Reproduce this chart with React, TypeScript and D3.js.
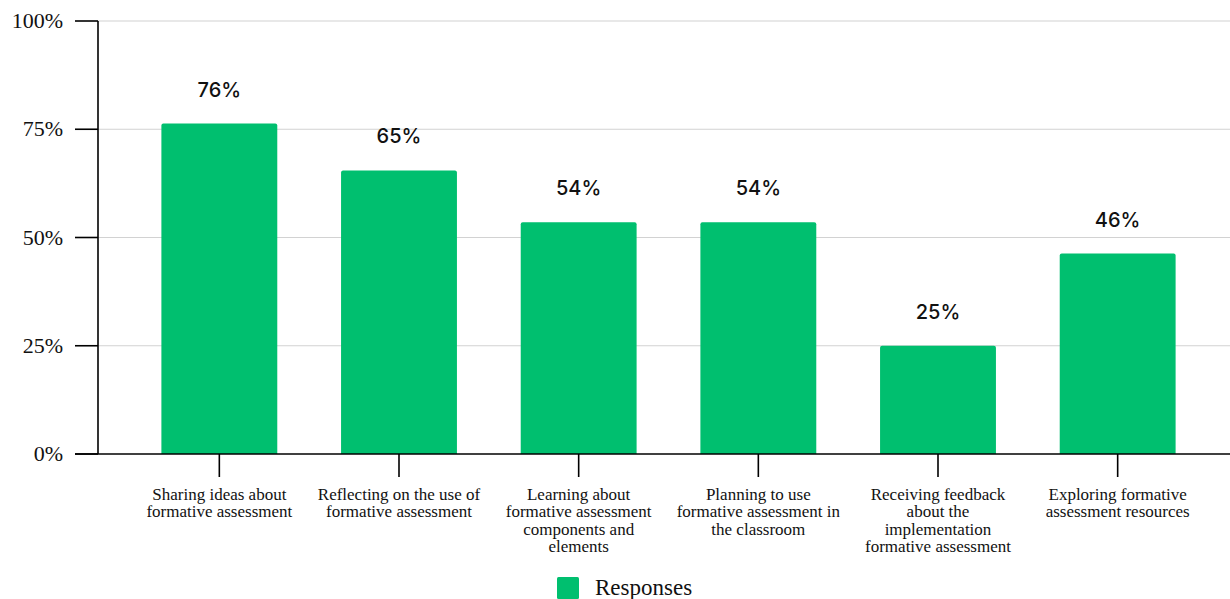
import React from "react";
import * as d3 from "d3";

const categories: string[] = [
  "Sharing ideas about\nformative assessment",
  "Reflecting on the use of\nformative assessment",
  "Learning about\nformative assessment\ncomponents and\nelements",
  "Planning to use\nformative assessment in\nthe classroom",
  "Receiving feedback\nabout the\nimplementation\nformative assessment",
  "Exploring formative\nassessment resources",
];
const responses: number[] = [76.3, 65.5, 53.5, 53.5, 25, 46.3];
const valueLabels: string[] = ["76%", "65%", "54%", "54%", "25%", "46%"];
const yTicks: number[] = [0, 25, 50, 75, 100];
const seriesName = "Responses";

const W = 1230;
const H = 599;
const GREEN = "#00BF6F";
const SERIF = "'Liberation Serif', 'Times New Roman', serif";
const SANS = "Inter, 'Noto Sans', sans-serif";

export default function App() {
  const x = d3
    .scaleBand<string>()
    .domain(categories)
    .range([129.5, 1207.5])
    .paddingInner(0.355)
    .paddingOuter(0.1775);
  const y = d3.scaleLinear().domain([0, 100]).range([454, 21]);
  const axisX = 98;
  const bw = x.bandwidth();
  const r = 2;

  const barPath = (x0: number, y0: number, w: number, h: number) =>
    `M${x0},${y0 + h}V${y0 + r}Q${x0},${y0} ${x0 + r},${y0}H${x0 + w - r}Q${x0 + w},${y0} ${x0 + w},${y0 + r}V${y0 + h}Z`;

  return (
    <svg
      width={W}
      height={H}
      style={{ position: "absolute", left: 0, top: 0, background: "#fff" }}
    >
      {yTicks
        .filter((t) => t > 0)
        .map((t) => (
          <line
            key={"g" + t}
            x1={axisX}
            x2={W}
            y1={y(t)}
            y2={y(t)}
            stroke="#d2d2d2"
            strokeWidth={1.2}
          />
        ))}
      {categories.map((c, i) => {
        const x0 = x(c)!;
        const y0 = y(responses[i]);
        return (
          <g key={"b" + i}>
            <path d={barPath(x0, y0, bw, y(0) - y0)} fill={GREEN} />
            <text
              x={x0 + bw / 2}
              y={y0 - 27}
              textAnchor="middle"
              fontFamily={SANS}
              fontSize={20}
              fontWeight={500}
              fill="#111"
            >
              {valueLabels[i]}
            </text>
          </g>
        );
      })}
      <line x1={axisX} x2={axisX} y1={y(100)} y2={y(0)} stroke="#000" strokeWidth={1.6} />
      {yTicks.map((t) => (
        <g key={"t" + t}>
          <line x1={75} x2={axisX} y1={y(t)} y2={y(t)} stroke="#000" strokeWidth={1.6} />
          <text
            x={63}
            y={y(t) + 7}
            textAnchor="end"
            fontFamily={SERIF}
            fontSize={22}
            fill="#111"
          >
            {t + "%"}
          </text>
        </g>
      ))}
      <line x1={75} x2={W} y1={y(0)} y2={y(0)} stroke="#000" strokeWidth={1.6} />
      {categories.map((c, i) => {
        const cx = x(c)! + bw / 2;
        const lines = c.split("\n");
        return (
          <g key={"x" + i}>
            <line x1={cx} x2={cx} y1={y(0)} y2={y(0) + 23} stroke="#000" strokeWidth={1.6} />
            <text textAnchor="middle" fontFamily={SERIF} fontSize={17} fill="#111">
              {lines.map((l, j) => (
                <tspan key={j} x={cx} y={500 + j * 17.4}>
                  {l}
                </tspan>
              ))}
            </text>
          </g>
        );
      })}
      <rect x={557} y={577} width={22} height={22} rx={1.5} fill={GREEN} />
      <text x={595} y={595} fontFamily={SERIF} fontSize={23} fill="#111">
        {seriesName}
      </text>
    </svg>
  );
}
